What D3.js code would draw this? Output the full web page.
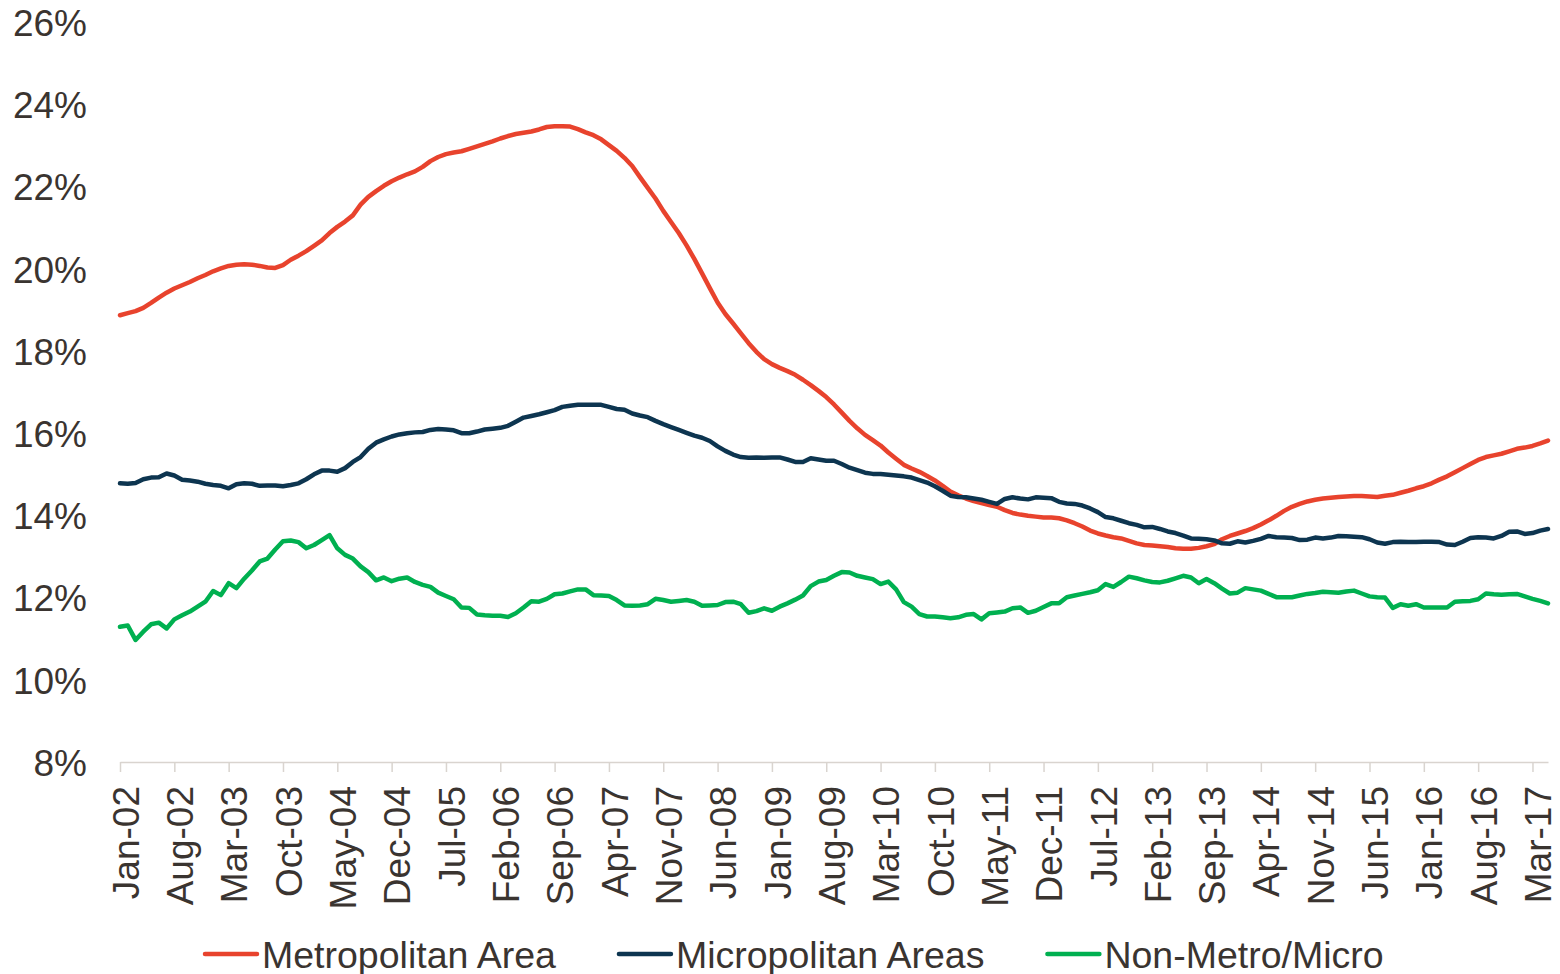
<!DOCTYPE html>
<html><head><meta charset="utf-8">
<script src="https://cdn.jsdelivr.net/npm/d3@7"></script>
<style>
html,body{margin:0;padding:0;background:#fff;}
svg{display:block;}
</style></head><body>
<svg id="chart" width="1560" height="974"></svg>
<script>
// ---- data ----
const tickLabels = ["Jan-02","Aug-02","Mar-03","Oct-03","May-04","Dec-04","Jul-05","Feb-06","Sep-06","Apr-07","Nov-07","Jun-08","Jan-09","Aug-09","Mar-10","Oct-10","May-11","Dec-11","Jul-12","Feb-13","Sep-13","Apr-14","Nov-14","Jun-15","Jan-16","Aug-16","Mar-17"];
const yTicks = [8,10,12,14,16,18,20,22,24,26];
const seriesNames = ["Metropolitan Area","Micropolitan Areas","Non-Metro/Micro"];
const seriesColors = ["#e8432d","#0d3550","#00b050"];

const metro = [
18.87,18.92,18.97,19.05,19.17,19.30,19.42,19.52,19.60,19.68,
19.77,19.85,19.94,20.01,20.07,20.10,20.11,20.10,20.07,20.03,
20.02,20.09,20.22,20.32,20.43,20.56,20.69,20.87,21.02,21.15,
21.30,21.56,21.75,21.89,22.02,22.13,22.22,22.30,22.37,22.48,
22.62,22.72,22.79,22.83,22.86,22.92,22.98,23.04,23.10,23.17,
23.23,23.28,23.31,23.34,23.39,23.45,23.47,23.47,23.46,23.40,
23.32,23.25,23.15,23.01,22.87,22.70,22.50,22.23,21.97,21.71,
21.41,21.14,20.87,20.57,20.24,19.89,19.53,19.18,18.90,18.67,
18.43,18.19,17.98,17.80,17.68,17.59,17.51,17.42,17.30,17.17,
17.03,16.88,16.70,16.50,16.30,16.12,15.96,15.83,15.70,15.53,
15.38,15.23,15.14,15.06,14.96,14.85,14.72,14.58,14.49,14.41,
14.35,14.30,14.25,14.21,14.13,14.06,14.02,13.99,13.97,13.95,
13.95,13.93,13.88,13.81,13.73,13.63,13.56,13.51,13.47,13.44,
13.38,13.32,13.28,13.27,13.25,13.23,13.20,13.19,13.19,13.21,
13.25,13.30,13.42,13.50,13.56,13.62,13.69,13.78,13.88,13.99,
14.11,14.21,14.28,14.34,14.38,14.41,14.43,14.45,14.46,14.47,
14.47,14.46,14.45,14.48,14.50,14.55,14.60,14.66,14.71,14.78,
14.87,14.95,15.05,15.15,15.25,15.35,15.42,15.46,15.50,15.56,
15.62,15.65,15.69,15.75,15.82];

const micro = [
14.78,14.77,14.79,14.88,14.92,14.93,15.02,14.97,14.87,14.85,
14.82,14.77,14.74,14.72,14.66,14.76,14.78,14.77,14.72,14.73,
14.73,14.71,14.74,14.78,14.88,15.00,15.09,15.09,15.06,15.15,
15.30,15.42,15.62,15.77,15.85,15.92,15.97,16.00,16.02,16.03,
16.08,16.10,16.09,16.07,16.00,16.00,16.04,16.09,16.11,16.13,
16.18,16.28,16.38,16.42,16.46,16.51,16.56,16.64,16.67,16.69,
16.69,16.69,16.69,16.64,16.59,16.57,16.48,16.43,16.39,16.30,
16.22,16.15,16.08,16.01,15.94,15.89,15.81,15.68,15.57,15.48,
15.42,15.40,15.41,15.40,15.41,15.41,15.36,15.30,15.30,15.39,
15.36,15.33,15.33,15.25,15.16,15.10,15.04,15.01,15.01,14.99,
14.97,14.95,14.92,14.86,14.80,14.71,14.60,14.48,14.45,14.44,
14.41,14.38,14.33,14.28,14.40,14.44,14.41,14.39,14.44,14.43,
14.42,14.33,14.29,14.28,14.24,14.17,14.08,13.96,13.93,13.87,
13.81,13.77,13.71,13.72,13.67,13.61,13.57,13.51,13.44,13.43,
13.42,13.39,13.32,13.31,13.37,13.34,13.38,13.43,13.50,13.47,
13.46,13.45,13.40,13.41,13.46,13.44,13.46,13.50,13.49,13.48,
13.47,13.42,13.34,13.31,13.35,13.36,13.35,13.35,13.36,13.36,
13.35,13.29,13.28,13.36,13.45,13.47,13.46,13.44,13.50,13.60,
13.61,13.55,13.57,13.63,13.67];

const nonMetro = [
11.29,11.32,10.97,11.17,11.35,11.39,11.25,11.47,11.57,11.66,
11.78,11.90,12.16,12.06,12.35,12.23,12.46,12.66,12.88,12.95,
13.17,13.37,13.39,13.35,13.20,13.28,13.40,13.52,13.20,13.04,
12.95,12.76,12.62,12.42,12.49,12.40,12.46,12.49,12.38,12.31,
12.26,12.12,12.04,11.96,11.76,11.75,11.59,11.57,11.56,11.56,
11.53,11.62,11.76,11.91,11.90,11.97,12.08,12.10,12.15,12.20,
12.20,12.06,12.05,12.04,11.94,11.81,11.80,11.81,11.84,11.97,
11.94,11.90,11.92,11.94,11.90,11.80,11.81,11.82,11.89,11.90,
11.84,11.63,11.67,11.74,11.68,11.78,11.86,11.95,12.05,12.28,
12.39,12.43,12.53,12.62,12.61,12.53,12.49,12.45,12.33,12.39,
12.20,11.89,11.78,11.60,11.54,11.54,11.52,11.50,11.52,11.58,
11.60,11.47,11.62,11.64,11.66,11.74,11.76,11.63,11.68,11.77,
11.86,11.86,12.01,12.05,12.09,12.13,12.18,12.33,12.26,12.38,
12.51,12.47,12.42,12.38,12.37,12.41,12.47,12.53,12.49,12.35,
12.45,12.35,12.22,12.10,12.12,12.23,12.20,12.17,12.09,12.01,
12.01,12.01,12.05,12.09,12.11,12.14,12.13,12.12,12.15,12.17,
12.10,12.03,12.01,12.00,11.75,11.84,11.80,11.84,11.76,11.76,
11.76,11.76,11.90,11.91,11.92,11.96,12.10,12.08,12.07,12.08,
12.09,12.03,11.97,11.92,11.86];

// ---- categories: monthly Jan-02 .. May-17 ----
const fmt = d3.timeFormat("%b-%y");
const categories = d3.timeMonth.range(new Date(2002,0,1), new Date(2017,5,1)).map(fmt);

const FONT = "'Liberation Sans', Arial, Helvetica, sans-serif";
const TEXT = "#3a3430";
const svg = d3.select("#chart");

const x = d3.scalePoint().domain(categories).range([120, 1548]);
const y = d3.scaleLinear().domain([8, 26]).range([762, 22.2]);

// y axis (labels only)
const gy = svg.append("g").attr("transform","translate(120,0)")
  .call(d3.axisLeft(y).tickValues(yTicks).tickSize(0).tickPadding(33).tickFormat(d => d + "%"));
gy.select(".domain").remove();
gy.selectAll("text").attr("fill", TEXT).style("font-family", FONT).style("font-size","37px").attr("dy","0.36em");

// x axis
const gx = svg.append("g").attr("transform","translate(0,762)")
  .call(d3.axisBottom(x).tickValues(tickLabels).tickSize(10).tickSizeOuter(0));
gx.select(".domain").attr("stroke","#d9d4cf").attr("stroke-width",1.5);
gx.selectAll(".tick line").attr("stroke","#d9d4cf").attr("stroke-width",1.5);
gx.selectAll("text")
  .attr("transform","rotate(-90)")
  .attr("x",-24).attr("y",0).attr("dy","0.49em")
  .style("text-anchor","end")
  .attr("fill", TEXT).style("font-family", FONT).style("font-size","37px");

// lines
const line = d3.line().x((d,i) => x(categories[i])).y(d => y(d));
[metro, micro, nonMetro].forEach((s, k) => {
  svg.append("path").datum(s)
    .attr("d", line)
    .attr("fill","none")
    .attr("stroke", seriesColors[k])
    .attr("stroke-width", 4.5)
    .attr("stroke-linejoin","round")
    .attr("stroke-linecap","round");
});

// legend
const lg = svg.append("g").attr("transform","translate(0,954)");
let cx = 205;
seriesNames.forEach((name, k) => {
  lg.append("line").attr("x1", cx).attr("x2", cx + 52).attr("y1", 0).attr("y2", 0)
    .attr("stroke", seriesColors[k]).attr("stroke-width", 4.5).attr("stroke-linecap","round");
  const t = lg.append("text").attr("x", cx + 57).attr("y", 0).attr("dy","0.36em")
    .attr("fill", TEXT).style("font-family", FONT).style("font-size","37.5px").text(name);
  cx = cx + 57 + t.node().getComputedTextLength() + 63;
});
</script>
</body></html>
